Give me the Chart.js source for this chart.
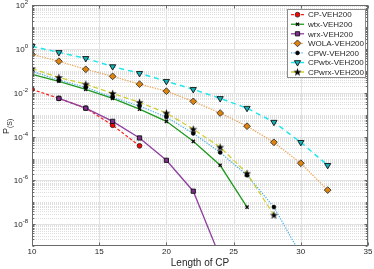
<!DOCTYPE html>
<html><head><meta charset="utf-8">
<script src="https://cdn.jsdelivr.net/npm/chart.js@4/dist/chart.umd.min.js"></script>
<style>html,body{margin:0;padding:0;background:#fff}canvas{display:block}</style>
</head><body>
<div style="width:374px;height:269px"><canvas id="c" width="374" height="269"></canvas></div>
<script>
// ---- data ----
const cpLengths = [10,12,14,16,18,20,22,24,26,28,30,32];
const seriesNames = ['CP-VEH200','wtx-VEH200','wrx-VEH200','WOLA-VEH200','CPW-VEH200','CPwtx-VEH200','CPwrx-VEH200'];
const cpVals    = [1.45e-2,5.6e-3,2.0e-3,3.3e-4,3.8e-5];                                   // x 10..18
const wtxVals   = [7.1e-2,3.4e-2,1.45e-2,5.6e-3,1.8e-3,5.0e-4,6.1e-5,4.9e-6,6.0e-8];        // x 10..26
const wrxVals   = [5.6e-3,2.0e-3,5.0e-4,8.7e-5,8.3e-6,3.2e-7,3e-10];                        // x 12..24
const wolaVals  = [0.58,0.28,0.12,0.057,0.025,0.012,4.1e-3,1.2e-3,3.0e-4,5.5e-5,6.1e-6,3.6e-7]; // x 10..32
const cpwVals   = [0.098,0.038,0.018,6.3e-3,2.5e-3,7.8e-4,1.4e-4,1.9e-5,1.7e-6,6e-8,4e-10]; // x 10..30
const cpwtxVals = [1.35,0.71,0.38,0.16,0.079,0.034,0.0145,5.6e-3,2.0e-3,4.6e-4,5.5e-5,4.9e-6]; // x 10..32
const cpwrxVals = [0.13,0.051,0.025,9.5e-3,3.7e-3,1.2e-3,2.2e-4,3.3e-5,2.1e-6,2.6e-8];     // x 10..28
const seriesStart = [10,10,12,10,10,10,10];
const xTickValues = [10,15,20,25,30,35];
const yTickExponents = [2,0,-2,-4,-6,-8];
const xTitle = 'Length of CP';

// star marker image
const starImg = document.createElement('canvas');
starImg.width = 11; starImg.height = 11;
(function(){
  const s = starImg.getContext('2d');
  s.beginPath();
  for (let i = 0; i < 10; i++) {
    const r = i % 2 ? 1.7 : 4.3;
    const a = -Math.PI/2 + i*Math.PI/5;
    const px = 5.5 + r*Math.cos(a), py = 5.8 + r*Math.sin(a);
    i ? s.lineTo(px,py) : s.moveTo(px,py);
  }
  s.closePath(); s.fillStyle = '#000'; s.fill();
})();

const allVals = [cpVals,wtxVals,wrxVals,wolaVals,cpwVals,cpwtxVals,cpwrxVals];
const styles = [
  {line:'#ff1a1a', dash:[3,2],   lw:1.2, ps:'circle',   r:2.4, fill:'#ff0000', stroke:'#222', bw:0.8, rot:0},
  {line:'#1f9a1f', dash:[],      lw:1.3, ps:'crossRot', r:2.2, fill:'#000',    stroke:'#111', bw:1.4, rot:0},
  {line:'#8e3fa0', dash:[],      lw:1.3, ps:'rect',     r:3.0, fill:'#7e2f8e', stroke:'#111', bw:0.9, rot:0},
  {line:'#f0a04a', dash:[1.3,1.3],lw:1.2, ps:'rectRot', r:3.4, fill:'#dd8410', stroke:'#222', bw:0.8, rot:0},
  {line:'#4db0e8', dash:[1.3,1.3],lw:1.2, ps:'circle',   r:2.0, fill:'#000',    stroke:'#000', bw:0.5, rot:0},
  {line:'#22e6ee', dash:[5,4],   lw:1.5, ps:'triangle', r:3.6, fill:'#15b3b8', stroke:'#111', bw:0.9, rot:180},
  {line:'#cfcf35', dash:[5,3],   lw:1.3, ps:starImg,    r:4,   fill:'#000',    stroke:'#000', bw:0,   rot:0}
];

const datasets = allVals.map((vals,i) => {
  const st = styles[i];
  const startIdx = cpLengths.indexOf(seriesStart[i]);
  return {
    label: seriesNames[i],
    data: vals.map((v,j) => ({x: cpLengths[startIdx + j], y: v})),
    borderColor: st.line, borderWidth: st.lw, borderDash: st.dash,
    backgroundColor: st.fill, pointBackgroundColor: st.fill, pointBorderColor: st.stroke,
    pointBorderWidth: st.bw, pointRadius: st.r, pointStyle: st.ps, pointRotation: st.rot,
    tension: 0, fill: false, order: 10 - i
  };
});

function drawMarker(ctx, st, x, y){
  ctx.save();
  ctx.setLineDash([]);
  ctx.fillStyle = st.fill; ctx.strokeStyle = st.stroke; ctx.lineWidth = st.bw;
  if (typeof st.ps !== 'string') {
    ctx.drawImage(st.ps, x - st.ps.width/2, y - st.ps.height/2);
  } else if (Chart.helpers && Chart.helpers.drawPoint) {
    Chart.helpers.drawPoint(ctx, {pointStyle: st.ps, radius: st.r, rotation: st.rot, borderWidth: st.bw}, x, y);
  } else {
    ctx.beginPath(); ctx.arc(x,y,st.r,0,Math.PI*2); ctx.fill(); ctx.stroke();
  }
  ctx.restore();
}

const custom = {
  id: 'custom',
  beforeDraw(chart){
    const ctx = chart.ctx;
    ctx.save(); ctx.fillStyle = '#fff'; ctx.fillRect(0,0,chart.width,chart.height); ctx.restore();
  },
  beforeDatasetsDraw(chart){
    const {ctx, chartArea:a, scales:{x,y}} = chart;
    ctx.save();
    ctx.lineWidth = 1;
    // minor horizontal grid (dotted)
    ctx.strokeStyle = '#dedede'; ctx.setLineDash([1,1]);
    for (let e = -9; e < 2; e++) {
      for (let k = 1; k <= 9; k++) {
        if (k === 1 && yTickExponents.includes(e)) continue;
        if (k === 1 && e === -9) continue;
        const py = Math.round(y.getPixelForValue(k*Math.pow(10,e))) + 0.5;
        ctx.beginPath(); ctx.moveTo(a.left, py); ctx.lineTo(a.right, py); ctx.stroke();
      }
    }
    // major grid
    ctx.setLineDash([]); ctx.strokeStyle = '#e2e2e2';
    yTickExponents.forEach(e => {
      const py = Math.round(y.getPixelForValue(Math.pow(10,e))) + 0.5;
      ctx.beginPath(); ctx.moveTo(a.left, py); ctx.lineTo(a.right, py); ctx.stroke();
    });
    xTickValues.forEach(v => {
      const px = Math.round(x.getPixelForValue(v)) + 0.5;
      ctx.beginPath(); ctx.moveTo(px, a.top); ctx.lineTo(px, a.bottom); ctx.stroke();
    });
    ctx.restore();
  },
  afterDraw(chart){
    const {ctx, chartArea:a, scales:{x,y}} = chart;
    ctx.save();
    const L = Math.round(a.left)+0.5, R = Math.round(a.right)-0.5, T = Math.round(a.top)+0.5, B = Math.round(a.bottom)-0.5;
    ctx.strokeStyle = '#6a6a6a'; ctx.lineWidth = 1; ctx.setLineDash([]);
    ctx.strokeRect(L, T, R-L, B-T);
    // x ticks
    xTickValues.forEach(v => {
      const px = Math.round(x.getPixelForValue(v)) + 0.5;
      ctx.beginPath(); ctx.moveTo(px, B); ctx.lineTo(px, B-3); ctx.moveTo(px, T); ctx.lineTo(px, T+3); ctx.stroke();
    });
    // y ticks
    for (let e = -9; e <= 2; e++) {
      for (let k = 1; k <= 9; k++) {
        const v = k*Math.pow(10,e);
        if (v > 100 || v < 1e-9) continue;
        const major = (k === 1 && yTickExponents.includes(e));
        const len = major ? 3 : 1.8;
        const py = Math.round(y.getPixelForValue(v)) + 0.5;
        ctx.beginPath(); ctx.moveTo(L, py); ctx.lineTo(L+len, py); ctx.moveTo(R, py); ctx.lineTo(R-len, py); ctx.stroke();
      }
    }
    // x tick labels
    ctx.fillStyle = '#262626';
    ctx.font = '8px "Liberation Sans", Arial, sans-serif';
    ctx.textAlign = 'center'; ctx.textBaseline = 'middle';
    xTickValues.forEach(v => ctx.fillText(String(v), x.getPixelForValue(v), a.bottom + 6));
    // y tick labels 10^e
    yTickExponents.forEach(e => {
      const py = y.getPixelForValue(Math.pow(10,e));
      const expStr = e < 0 ? '-' + (-e) : String(e);
      ctx.font = '6px "Liberation Sans", Arial, sans-serif';
      const ew = ctx.measureText(expStr).width;
      const right = a.left - 4;
      ctx.textAlign = 'right'; ctx.textBaseline = 'alphabetic';
      ctx.fillText(expStr, right, py - 1);
      ctx.font = '8px "Liberation Sans", Arial, sans-serif';
      ctx.fillText('10', right - ew, py + 3);
    });
    // x title
    ctx.font = '10px "Liberation Sans", Arial, sans-serif';
    ctx.textAlign = 'center'; ctx.textBaseline = 'middle';
    ctx.fillText(xTitle, (a.left + a.right)/2, 263);
    // y title P_(S)
    ctx.save();
    ctx.translate(9, 134); ctx.rotate(-Math.PI/2);
    ctx.textAlign = 'left'; ctx.textBaseline = 'alphabetic';
    ctx.font = '9px "Liberation Sans", Arial, sans-serif';
    ctx.fillText('P', 0, 0);
    const pw = ctx.measureText('P').width;
    ctx.font = '7px "Liberation Sans", Arial, sans-serif';
    ctx.fillText('(S)', pw, 3);
    ctx.restore();
    // legend
    const bx = 287.5, by = 9.5, bw = 78, bh = 68;
    ctx.fillStyle = '#fff'; ctx.fillRect(bx, by, bw, bh);
    ctx.strokeStyle = '#8a8a8a'; ctx.lineWidth = 1; ctx.strokeRect(bx, by, bw, bh);
    ctx.font = '8px "Liberation Sans", Arial, sans-serif';
    ctx.textAlign = 'left'; ctx.textBaseline = 'middle';
    seriesNames.forEach((name, i) => {
      const st = styles[i];
      const ly = 14.7 + i*9.55;
      ctx.save();
      ctx.strokeStyle = st.line; ctx.lineWidth = st.lw; ctx.setLineDash(st.dash);
      ctx.beginPath(); ctx.moveTo(291, ly); ctx.lineTo(304, ly); ctx.stroke();
      ctx.restore();
      drawMarker(ctx, st, 297.5, ly);
      ctx.fillStyle = '#262626';
      ctx.fillText(name, 308, ly + 0.5);
    });
    ctx.restore();
  }
};

new Chart(document.getElementById('c'), {
  type: 'line',
  data: {datasets},
  options: {
    responsive: false, animation: false, devicePixelRatio: 1,
    layout: {padding: {left: 0, right: 6, top: 5, bottom: 0}},
    plugins: {legend: {display: false}, tooltip: {enabled: false}},
    scales: {
      x: {type: 'linear', min: 10, max: 35, grid: {display: false}, border: {display: false},
          ticks: {display: false}, afterFit(s){ s.height = 23; }},
      y: {type: 'logarithmic', min: 1e-9, max: 100, grid: {display: false}, border: {display: false},
          ticks: {display: false}, afterFit(s){ s.width = 32; }}
    }
  },
  plugins: [custom]
});
</script>
</body></html>
